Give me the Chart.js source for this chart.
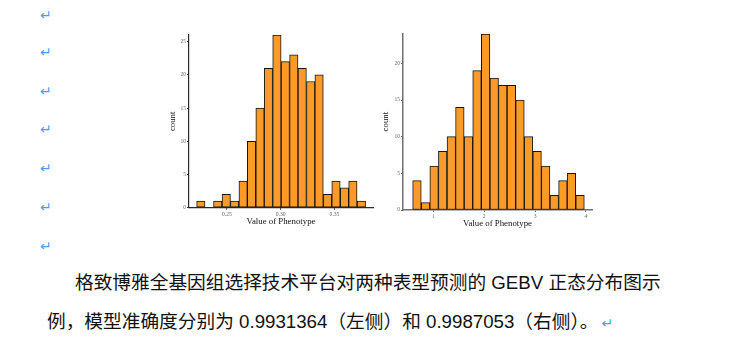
<!DOCTYPE html>
<html>
<head>
<meta charset="utf-8">
<script src="https://cdn.jsdelivr.net/npm/chart.js@4.4.1/dist/chart.umd.min.js"></script>
<style>
  body { margin: 0; width: 756px; height: 345px; background: #fff; position: relative; overflow: hidden; }
  .mark { position: absolute; left: 40px; font: 14px "DejaVu Sans"; line-height: 14px; color: #4b9cf5; }
  .cap { position: absolute; font-family: "Liberation Sans", "Noto Sans CJK SC"; font-size: 18.7px; line-height: 22px; color: #111; white-space: nowrap; }
  .cap .mk { font: 14px "DejaVu Sans"; color: #4b9cf5; margin-left: 3px; }
  canvas { position: absolute; }
</style>
</head>
<body>
<div class="mark" style="top:8px">↵</div>
<div class="mark" style="top:45px">↵</div>
<div class="mark" style="top:84px">↵</div>
<div class="mark" style="top:122px">↵</div>
<div class="mark" style="top:161px">↵</div>
<div class="mark" style="top:200px">↵</div>
<div class="mark" style="top:239px">↵</div>

<canvas id="histLeft" width="230" height="210" style="left:150px;top:25px"></canvas>
<canvas id="histRight" width="230" height="210" style="left:375px;top:25px"></canvas>

<div class="cap" style="left:75px;top:272px">格致博雅全基因组选择技术平台对两种表型预测的 GEBV 正态分布图示</div>
<div class="cap" style="left:47px;top:311px">例，模型准确度分别为 0.9931364（左侧）和 0.9987053（右侧）。<span class="mk">↵</span></div>

<script>
// left panel: bin centres and counts
var leftBins = [0.2258, 0.2337, 0.2415, 0.2494, 0.2572, 0.2651, 0.2729, 0.2808, 0.2886, 0.2965,
                0.3043, 0.3122, 0.3200, 0.3279, 0.3357, 0.3436, 0.3514, 0.3593, 0.3671, 0.3750];
var leftCounts = [1, 0, 1, 2, 1, 4, 10, 15, 21, 26, 22, 23, 21, 19, 20, 2, 4, 3, 4, 1];
var leftXTicks = [0.25, 0.30, 0.35];
var leftYTicks = [0, 5, 10, 15, 20, 25];

// right panel
var rightBins = [0.679, 0.848, 1.016, 1.185, 1.354, 1.522, 1.691, 1.859, 2.028, 2.197,
                 2.365, 2.534, 2.703, 2.871, 3.040, 3.208, 3.377, 3.546, 3.714, 3.883];
var rightCounts = [4, 1, 6, 8, 10, 14, 10, 19, 24, 18, 17, 17, 15, 10, 8, 6, 2, 4, 5, 2];
var rightXTicks = [1, 2, 3, 4];
var rightYTicks = [0, 5, 10, 15, 20];

var barFill = '#fa9a28';
var tickFont = { family: 'Liberation Serif', size: 5.6 };
var titleFont = { family: 'Liberation Serif', size: 8.8 };
var tickColor = '#6e655c';

function histogram(id, bins, counts, xTicks, yTicks, xFmt, box) {
    var points = [];
    for (var i = 0; i < bins.length; i++) {
        points.push({ x: bins[i], y: counts[i] });
    }

    new Chart(document.getElementById(id), {
        type: 'bar',
        data: {
            datasets: [{
                data: points,
                backgroundColor: barFill,
                borderColor: '#141414',
                borderWidth: 1,
                borderSkipped: false,
                barPercentage: 1,
                categoryPercentage: 1
            }]
        },
        options: {
            animation: false,
            responsive: false,
            layout: { padding: box.pad },
            plugins: { legend: { display: false }, tooltip: { enabled: false } },
            scales: {
                x: {
                    type: 'linear',
                    min: box.xMin,
                    max: box.xMax,
                    offset: false,
                    afterBuildTicks: function (s) { s.ticks = xTicks.map(function (v) { return { value: v }; }); },
                    afterFit: function (s) { s.height = box.xH; },
                    grid: { drawOnChartArea: false, offset: false, tickLength: 2, color: box.axis },
                    border: { color: box.axis, width: box.axisW },
                    ticks: { font: tickFont, color: tickColor, padding: 1, maxRotation: 0, autoSkip: false, callback: xFmt },
                    title: { display: true, text: 'Value of Phenotype', font: titleFont, color: '#111', padding: 0 }
                },
                y: {
                    min: 0,
                    max: box.yMax,
                    afterBuildTicks: function (s) { s.ticks = yTicks.map(function (v) { return { value: v }; }); },
                    afterFit: function (s) { s.width = box.yW; },
                    grid: { drawOnChartArea: false, tickLength: 2, color: box.axis },
                    border: { color: box.axis, width: box.axisW },
                    ticks: { font: tickFont, color: tickColor, padding: 1 },
                    title: { display: true, text: 'count', font: titleFont, color: '#111', padding: { top: box.yPad, bottom: 0 } }
                }
            }
        }
    });
}

histogram('histLeft', leftBins, leftCounts, leftXTicks, leftYTicks,
    function (v) { return v.toFixed(2); },
    { pad: { top: 10, right: 7, bottom: 7.7, left: 0 }, xMin: 0.2148, xMax: 0.3858, yMax: 26,
      xH: 19.6, yW: 39, yPad: 17.7, axis: '#2a2a2a', axisW: 1.2 });

histogram('histRight', rightBins, rightCounts, rightXTicks, rightYTicks,
    function (v) { return String(v); },
    { pad: { top: 8.3, right: 13, bottom: 6.4, left: 0 }, xMin: 0.405, xMax: 4.118, yMax: 24.1,
      xH: 18.6, yW: 28, yPad: 5.7, axis: '#6f6f6f', axisW: 1.5 });
</script>
</body>
</html>
